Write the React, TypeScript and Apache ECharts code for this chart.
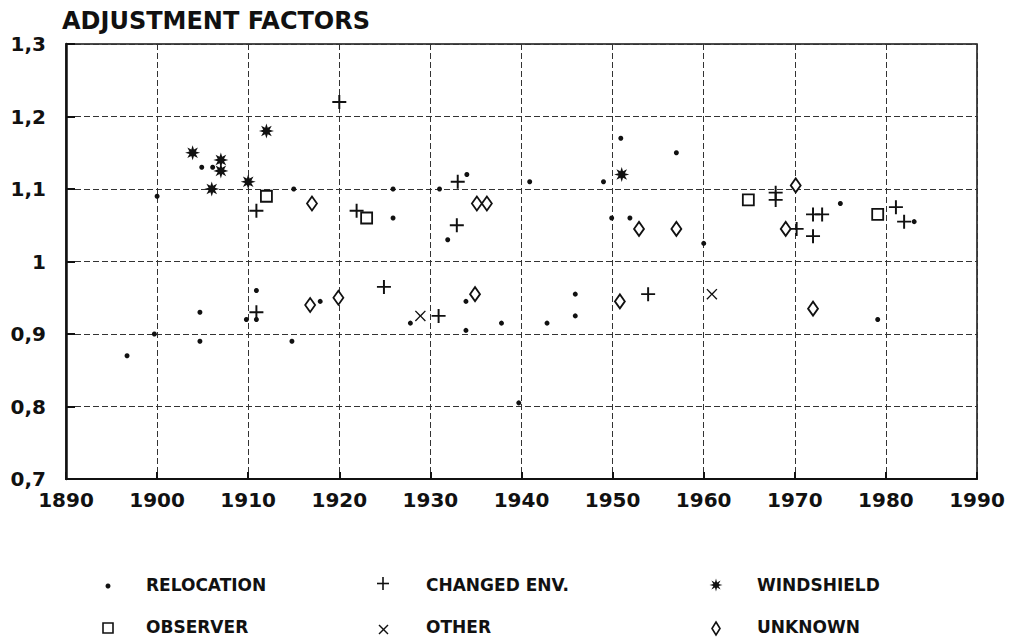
import React, { useEffect, useRef } from "react";
import * as echarts from "echarts";

const relocation: [number, number][] = [
  [1896.7, 0.87], [1899.7, 0.9], [1900, 1.09], [1904.7, 0.93], [1904.7, 0.89], [1904.9, 1.13],
  [1906.1, 1.13], [1909.8, 0.92], [1910.9, 0.92], [1910.9, 0.96], [1914.8, 0.89], [1915, 1.1],
  [1917.9, 0.945], [1925.9, 1.1], [1925.9, 1.06], [1927.8, 0.915], [1931, 1.1], [1931.9, 1.03],
  [1933.9, 0.945], [1933.9, 0.905], [1934, 1.12], [1937.8, 0.915], [1939.7, 0.805], [1940.9, 1.11],
  [1942.8, 0.915], [1945.9, 0.955], [1945.9, 0.925], [1949, 1.11], [1949.9, 1.06], [1950.9, 1.17],
  [1951.9, 1.06], [1957, 1.15], [1960, 1.025], [1975, 1.08], [1979.1, 0.92], [1983.1, 1.055],
];
const changedEnv: [number, number][] = [
  [1920, 1.22], [1910.9, 1.07], [1921.9, 1.07], [1933, 1.11], [1932.9, 1.05], [1910.9, 0.93],
  [1924.9, 0.965], [1930.9, 0.925], [1953.9, 0.955], [1967.9, 1.095], [1967.9, 1.085],
  [1970.2, 1.045], [1972, 1.065], [1973, 1.065], [1972, 1.035], [1981.1, 1.075], [1982, 1.055],
];
const windshield: [number, number][] = [
  [1903.9, 1.15], [1907, 1.14], [1907, 1.125], [1906, 1.1], [1910, 1.11], [1912, 1.18], [1951, 1.12],
];
const observer: [number, number][] = [
  [1912, 1.09], [1923, 1.06], [1964.9, 1.085], [1979.1, 1.065],
];
const other: [number, number][] = [
  [1928.9, 0.925], [1960.9, 0.955],
];
const unknown: [number, number][] = [
  [1917, 1.08], [1935.1, 1.08], [1936.2, 1.08], [1952.9, 1.045], [1957, 1.045], [1969, 1.045],
  [1970.1, 1.105], [1916.8, 0.94], [1919.9, 0.95], [1934.9, 0.955], [1950.8, 0.945], [1972, 0.935],
];

const yTickLabels: Record<string, string> = {
  "0.7": "0,7", "0.8": "0,8", "0.9": "0,9", "1": "1", "1.1": "1,1", "1.2": "1,2", "1.3": "1,3",
};
const xTickLabels = ["1890", "1900", "1910", "1920", "1930", "1940", "1950", "1960", "1970", "1980", "1990"];

const INK = "#111";
const FONT = "DejaVu Sans";

const PLUS = "path://M4.3,0h1.4v4.3h4.3v1.4h-4.3v4.3h-1.4v-4.3h-4.3v-1.4h4.3z";
const CROSS = "path://M0,0.9L0.9,0L5,4.1L9.1,0L10,0.9L5.9,5L10,9.1L9.1,10L5,5.9L0.9,10L0,9.1L4.1,5z";
const STAR =
  "path://M5,0L5.88,2.88L8.54,1.46L7.12,4.12L10,5L7.12,5.88L8.54,8.54L5.88,7.12L5,10L4.12,7.12L1.46,8.54L2.88,5.88L0,5L2.88,4.12L1.46,1.46L4.12,2.88z";

function starPoints(cx: number, cy: number, ro: number, ri: number) {
  const pts: number[][] = [];
  for (let k = 0; k < 16; k++) {
    const a = (-90 + k * 22.5) * Math.PI / 180;
    const r = k % 2 === 0 ? ro : ri;
    pts.push([cx + r * Math.cos(a), cy + r * Math.sin(a)]);
  }
  return pts;
}

export default function App() {
  const ref = useRef<HTMLDivElement>(null);
  useEffect(() => {
    document.body.style.margin = "0";
    const chart = echarts.init(ref.current!, null, { renderer: "svg" });
    const lbl = (t: string, x: number, y: number) => ({
      type: "text", left: x, top: y - 11,
      style: { text: t, fill: INK, font: `bold 17px "${FONT}"` },
    });
    const strokeStyle = { stroke: INK, lineWidth: 1.6, fill: "none" };
    chart.setOption({
      animation: false,
      backgroundColor: "#fff",
      grid: { left: 66, right: 33, top: 44, bottom: 165, show: true, borderColor: INK, borderWidth: 1.5 },
      xAxis: {
        type: "value", min: 1890, max: 1990, interval: 10,
        axisLine: { show: true, onZero: false, lineStyle: { color: INK, width: 2 } },
        axisTick: { show: true, inside: true, length: 7, lineStyle: { color: INK, width: 2 } },
        axisLabel: {
          color: INK, fontFamily: FONT, fontWeight: "bold", fontSize: 20, margin: 11,
          formatter: (v: number) => xTickLabels[Math.round((v - 1890) / 10)] ?? String(v),
        },
        splitLine: { show: true, lineStyle: { color: "#333", width: 1, type: [6, 3] } },
      },
      yAxis: {
        type: "value", min: 0.7, max: 1.3, interval: 0.1,
        axisLine: { show: true, onZero: false, lineStyle: { color: INK, width: 2.5 } },
        axisTick: { show: true, inside: true, length: 9, lineStyle: { color: INK, width: 2 } },
        axisLabel: {
          color: INK, fontFamily: FONT, fontWeight: "bold", fontSize: 20, margin: 20,
          formatter: (v: number) => yTickLabels[String(Math.round(v * 10) / 10)] ?? String(v),
        },
        splitLine: { show: true, lineStyle: { color: "#333", width: 1, type: [6, 3] } },
      },
      series: [
        { name: "RELOCATION", type: "scatter", data: relocation, symbol: "circle", symbolSize: 5,
          itemStyle: { color: INK, opacity: 1 } },
        { name: "CHANGED ENV.", type: "scatter", data: changedEnv, symbol: PLUS, symbolSize: 14,
          itemStyle: { color: INK, opacity: 1 } },
        { name: "WINDSHIELD", type: "scatter", data: windshield, symbol: STAR, symbolSize: 15,
          itemStyle: { color: INK, opacity: 1 } },
        { name: "OBSERVER", type: "scatter", data: observer, symbol: "rect", symbolSize: 11,
          itemStyle: { color: "#fff", borderColor: INK, borderWidth: 1.8, opacity: 1 } },
        { name: "OTHER", type: "scatter", data: other, symbol: CROSS, symbolSize: 11,
          itemStyle: { color: INK, opacity: 1 } },
        { name: "UNKNOWN", type: "scatter", data: unknown, symbol: "diamond", symbolSize: [10, 14],
          itemStyle: { color: "#fff", borderColor: INK, borderWidth: 1.8, opacity: 1 } },
      ],
      graphic: [
        { type: "text", left: 62, top: 9,
          style: { text: "ADJUSTMENT FACTORS", fill: INK, font: `bold 24px "${FONT}"` } },
        // legend markers
        { type: "circle", shape: { cx: 108, cy: 586, r: 2.5 }, style: { fill: INK } },
        { type: "line", shape: { x1: 383, y1: 577, x2: 383, y2: 590 }, style: { stroke: INK, lineWidth: 1.6 } },
        { type: "line", shape: { x1: 377, y1: 583.5, x2: 389, y2: 583.5 }, style: { stroke: INK, lineWidth: 1.6 } },
        { type: "polygon", shape: { points: starPoints(716, 585, 6.5, 2.8) }, style: { fill: INK } },
        { type: "rect", shape: { x: 103, y: 623, width: 10, height: 10 }, style: strokeStyle },
        { type: "line", shape: { x1: 379, y1: 625, x2: 388, y2: 634 }, style: { stroke: INK, lineWidth: 1.4 } },
        { type: "line", shape: { x1: 388, y1: 625, x2: 379, y2: 634 }, style: { stroke: INK, lineWidth: 1.4 } },
        { type: "polygon", shape: { points: [[716, 622], [720, 628.5], [716, 635], [712, 628.5]] }, style: strokeStyle },
        lbl("RELOCATION", 146, 587),
        lbl("CHANGED ENV.", 426, 587),
        lbl("WINDSHIELD", 757, 587),
        lbl("OBSERVER", 146, 629),
        lbl("OTHER", 426, 629),
        lbl("UNKNOWN", 757, 629),
      ],
    });
    return () => chart.dispose();
  }, []);
  return <div ref={ref} style={{ width: 1010, height: 644 }} />;
}
